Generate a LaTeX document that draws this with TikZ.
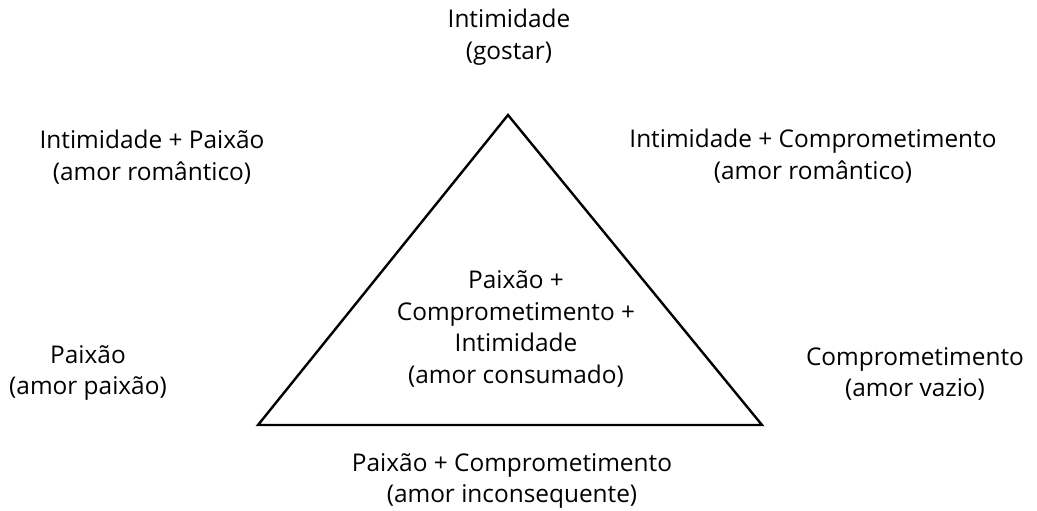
\documentclass[tikz,border=0pt]{standalone}
\usepackage{fontspec}
\setmainfont{Open Sans}
\begin{document}
\begin{tikzpicture}[x=1pt,y=-1pt,
  lbl/.style={align=center,font=\fontsize{24.4}{31.5}\selectfont,inner sep=0pt}]
\useasboundingbox (0,0) rectangle (1037,511);
\coordinate (A) at (508,115);
\coordinate (B) at (258,425);
\coordinate (C) at (762,425);
\draw[line width=2.4pt,line join=miter] (A) -- (B) -- (C) -- cycle;
\node[lbl] (top) at (509,37) {Intimidade\\(gostar)};
\node[lbl] (tl) at (152,157) {Intimidade + Paixão\\(amor romântico)};
\node[lbl] (tr) at (813,156) {Intimidade + Comprometimento\\(amor romântico)};
\node[lbl] (mid) at (516,329) {Paixão +\\Comprometimento +\\Intimidade\\(amor consumado)};
\node[lbl] (bl) at (88,373) {Paixão\\(amor paixão)};
\node[lbl] (br) at (915,374) {Comprometimento\\(amor vazio)};
\node[lbl] (bot) at (512,481) {Paixão + Comprometimento\\(amor inconsequente)};
\end{tikzpicture}
\end{document}
